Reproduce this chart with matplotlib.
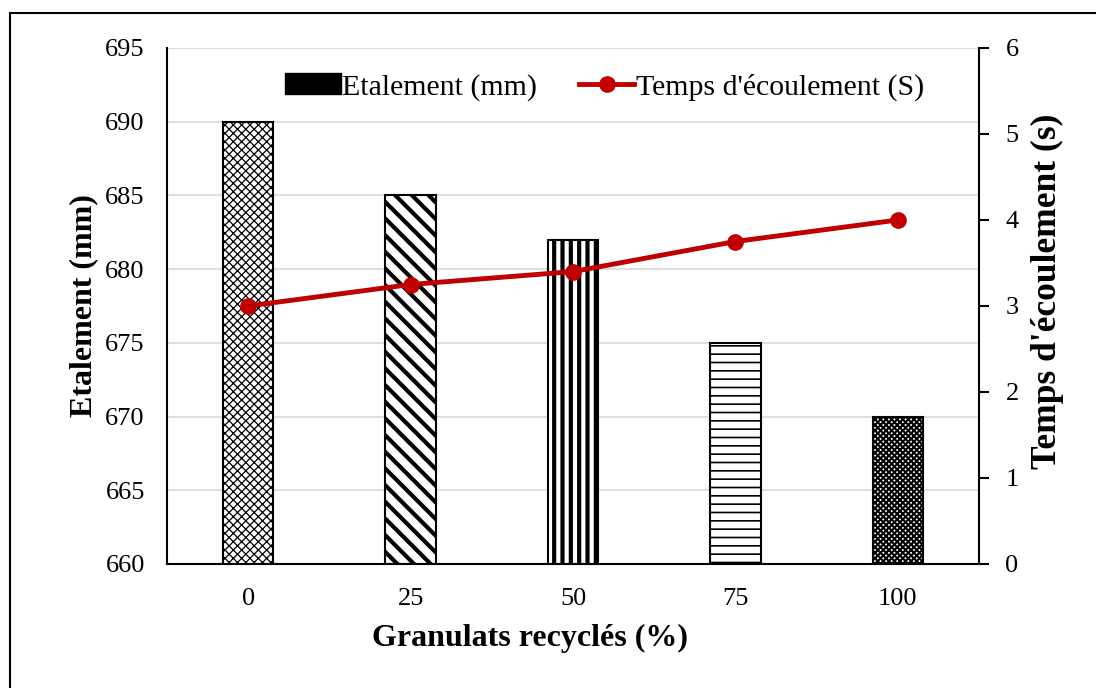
import numpy as np
import matplotlib
matplotlib.use('Agg')
import matplotlib.pyplot as plt
from matplotlib.patches import Patch, Rectangle
from matplotlib.lines import Line2D

plt.rcParams['font.family'] = ['Liberation Serif', 'DejaVu Serif']

# recycled aggregate content and measured properties
categories = ['0', '25', '50', '75', '100']
etalement = [690, 685, 682, 675, 670]          # slump flow (mm)
temps = [3.0, 3.25, 3.4, 3.75, 4.0]           # flow time (s)
hatches = ['xxxx', '\\\\', '||', '--', 'xxxxxx']
hatch_lw = [0.9, 3.0, 3.0, 1.2, 1.5]

fig = plt.figure(figsize=(10.96, 6.88), dpi=100)
ax = fig.add_axes([167 / 1096, 124 / 688, 812 / 1096, 516 / 688])

x = np.arange(len(categories))
for i in range(len(categories)):
    with plt.rc_context({'hatch.linewidth': hatch_lw[i]}):
        ax.bar(x[i], etalement[i] - 660, bottom=660, width=0.31,
               facecolor='white', edgecolor='black', linewidth=1.5,
               hatch=hatches[i], zorder=2)

ax.set_ylim(660, 695)
ax.set_yticks(np.arange(660, 696, 5))
ax.set_xlim(-0.5, len(categories) - 0.5)
ax.set_xticks(x)
ax.set_xticklabels(categories)
ax.yaxis.grid(True, color='#d9d9d9', linewidth=1.2, zorder=0)
ax.set_axisbelow(True)
ax.tick_params(axis='both', length=0, labelsize=19, pad=16)
ax.tick_params(axis='x', pad=17)
ax.spines['top'].set_visible(False)
ax.spines['right'].set_visible(False)
ax.spines['left'].set_linewidth(1.5)
ax.spines['bottom'].set_linewidth(1.5)
ax.set_ylabel('Etalement (mm)', fontsize=23, fontweight='bold', labelpad=5)
ax.set_xlabel('Granulats recyclés (%)', fontsize=23, fontweight='bold', labelpad=10)
ax.xaxis.label.set_x(0.447)

ax2 = ax.twinx()
ax2.plot(x, temps, color='#c00000', linewidth=3.5, marker='o',
         markersize=11, zorder=5)
ax2.set_ylim(0, 6)
ax2.set_yticks(range(0, 7))
ax2.tick_params(axis='y', direction='out', length=7, width=1.5,
                labelsize=19, pad=12)
for side in ['top', 'left', 'bottom']:
    ax2.spines[side].set_visible(False)
ax2.spines['right'].set_linewidth(1.5)
ax2.set_ylabel("Temps d'écoulement (s)", fontsize=25.5, fontweight='bold',
               labelpad=9)
ax2.yaxis.label.set_y(0.529)

handles = [Patch(facecolor='black', edgecolor='black'),
           Line2D([], [], color='#c00000', linewidth=3.5, marker='o',
                  markersize=11)]
ax2.legend(handles, ['Etalement (mm)', "Temps d'écoulement (S)"],
           loc='upper center', bbox_to_anchor=(0.539, 1.003), ncol=2,
           frameon=False, fontsize=21.5, handlelength=1.85, handletextpad=0.05,
           columnspacing=1.4)

# outer frame around the figure
fig.add_artist(Rectangle((10 / 1096, -0.1), 1.2, 1.1 - 13 / 688,
                         transform=fig.transFigure, fill=False,
                         edgecolor='black', linewidth=1.5))

fig.savefig('out.png', dpi=100)
